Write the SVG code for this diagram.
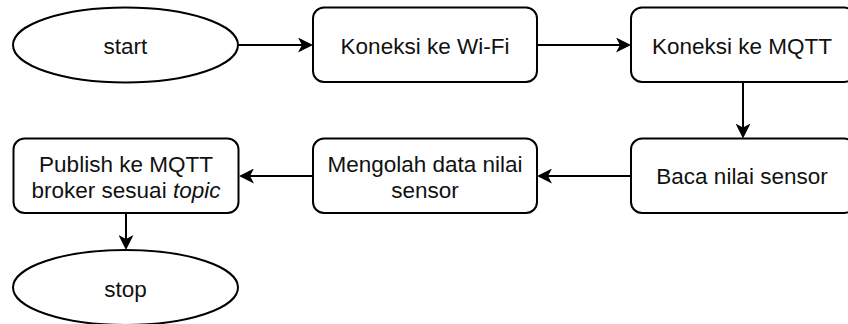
<svg xmlns="http://www.w3.org/2000/svg" width="848" height="324" viewBox="0 0 848 324">
  <style>
    .shape { fill: #ffffff; stroke: #000000; stroke-width: 2; }
    .label { font-family: "Liberation Sans", Arial, sans-serif; font-size: 22.5px; fill: #111111; text-anchor: middle; }
    .edge { fill: none; stroke: #000000; stroke-width: 2; }
  </style>
  <defs>
    <marker id="arrow" viewBox="0 0 15 15" refX="11" refY="7.5" markerWidth="15" markerHeight="15" markerUnits="userSpaceOnUse" orient="auto">
      <path d="M0,0 L15,7.5 L0,15 L4,7.5 Z" fill="#000000"/>
    </marker>
  </defs>
  <rect width="848" height="324" fill="#ffffff"/>

  <g id="connectors">
    <line class="edge" x1="238" y1="45" x2="309" y2="45" marker-end="url(#arrow)"/>
    <line class="edge" x1="537" y1="45" x2="627" y2="45" marker-end="url(#arrow)"/>
    <line class="edge" x1="743" y1="82" x2="743" y2="134.5" marker-end="url(#arrow)"/>
    <line class="edge" x1="631" y1="176" x2="541" y2="176" marker-end="url(#arrow)"/>
    <line class="edge" x1="313" y1="176" x2="243" y2="176" marker-end="url(#arrow)"/>
    <line class="edge" x1="126" y1="213" x2="126" y2="246" marker-end="url(#arrow)"/>
  </g>

  <g id="start">
    <ellipse class="shape" cx="125.5" cy="45" rx="112.5" ry="37.5"/>
    <text class="label" x="125.5" y="53.5">start</text>
  </g>

  <g id="wifi">
    <rect class="shape" x="313" y="7.5" width="224" height="74.5" rx="11" ry="11"/>
    <text class="label" x="425" y="53.5">Koneksi ke Wi-Fi</text>
  </g>

  <g id="mqtt">
    <rect class="shape" x="631" y="7.5" width="224" height="74.5" rx="11" ry="11"/>
    <text class="label" x="742" y="53.5">Koneksi ke MQTT</text>
  </g>

  <g id="baca">
    <rect class="shape" x="631" y="138.5" width="224" height="74.5" rx="11" ry="11"/>
    <text class="label" x="742" y="183.5">Baca nilai sensor</text>
  </g>

  <g id="mengolah">
    <rect class="shape" x="313" y="138.5" width="224" height="74.5" rx="11" ry="11"/>
    <text class="label" x="425" y="171.5">Mengolah data nilai</text>
    <text class="label" x="425" y="198">sensor</text>
  </g>

  <g id="publish">
    <rect class="shape" x="13.5" y="138.5" width="225" height="74.5" rx="11" ry="11"/>
    <text class="label" x="126" y="171.5">Publish ke MQTT</text>
    <text class="label" x="126" y="198">broker sesuai <tspan font-style="italic">topic</tspan></text>
  </g>

  <g id="stop">
    <ellipse class="shape" cx="125.5" cy="287.5" rx="112.5" ry="37.5"/>
    <text class="label" x="125.5" y="297">stop</text>
  </g>
</svg>
